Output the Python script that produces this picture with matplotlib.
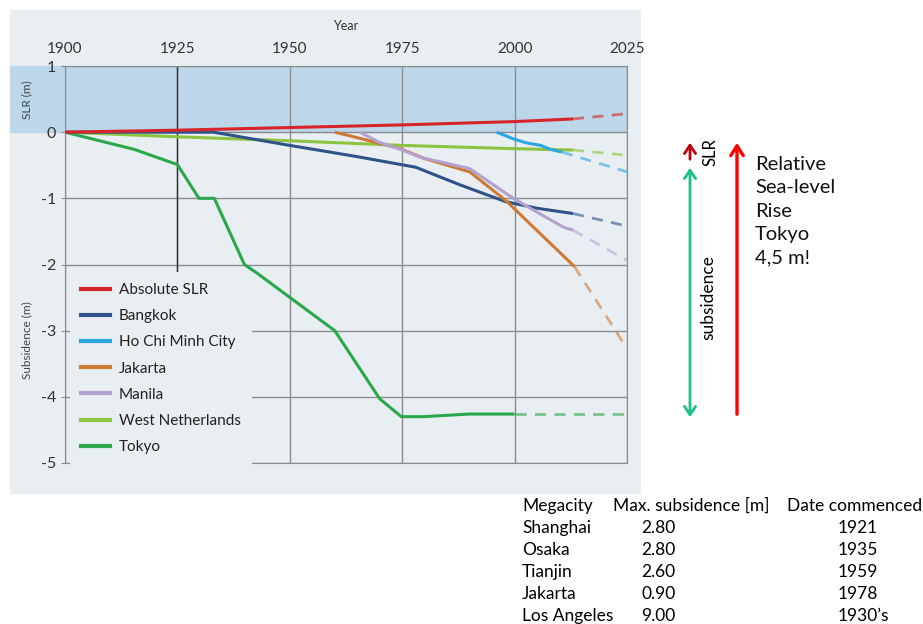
import matplotlib
matplotlib.use("Agg")
import matplotlib.pyplot as plt
from matplotlib.patches import Rectangle, FancyArrowPatch
from matplotlib.lines import Line2D

plt.rcParams['font.family'] = ['Lato', 'DejaVu Sans']
plt.rcParams['axes.unicode_minus'] = False

# Dados (anos e subsidência / subida do nível do mar em m)
slr_year = [1900, 1925, 1950, 1975, 2000, 2013]
slr_m = [0, 0.03, 0.07, 0.11, 0.16, 0.2]
slr_proj_year = [2013, 2025]
slr_proj_m = [0.2, 0.28]

bangkok_year = [1900, 1933, 1950, 1965, 1978, 1988, 1998, 2005, 2013]
bangkok_m = [0, 0, -0.2, -0.37, -0.53, -0.8, -1.05, -1.15, -1.23]
bangkok_proj_year = [2013, 2025]
bangkok_proj_m = [-1.23, -1.42]

hcmc_year = [1996, 1999.7, 2002.5, 2005.8, 2008, 2010.5]
hcmc_m = [0, -0.1, -0.16, -0.2, -0.26, -0.3]
hcmc_proj_year = [2010.5, 2025]
hcmc_proj_m = [-0.3, -0.6]

jakarta_year = [1960, 1966, 1974.6, 1980, 1990, 1998, 2003.5, 2013.3]
jakarta_m = [0, -0.1, -0.25, -0.4, -0.6, -1.03, -1.39, -2.03]
jakarta_proj_year = [2013.3, 2025]
jakarta_proj_m = [-2.03, -3.27]

manila_year = [1965.6, 1969.8, 1975.4, 1979, 1990, 1999.7, 2006.3, 2011, 2013]
manila_m = [0, -0.15, -0.28, -0.38, -0.55, -1.0, -1.26, -1.44, -1.48]
manila_proj_year = [2013, 2025]
manila_proj_m = [-1.48, -1.94]

wnl_year = [1900, 1925, 1950, 1975, 2000, 2013]
wnl_m = [0, -0.07, -0.13, -0.2, -0.25, -0.27]
wnl_proj_year = [2013, 2025]
wnl_proj_m = [-0.27, -0.35]

tokyo_year = [1900, 1915.4, 1925, 1929.8, 1933.2, 1939.9, 1942.7, 1960, 1970, 1974.8, 1979.6, 1990, 2000]
tokyo_m = [0, -0.26, -0.49, -1.0, -1.0, -2.0, -2.13, -3.0, -4.03, -4.3, -4.3, -4.26, -4.26]
tokyo_proj_year = [2000, 2025]
tokyo_proj_m = [-4.26, -4.26]

# Tabela
cidades = ["Shanghai", "Osaka", "Tianjin", "Jakarta", "Los Angeles"]
subs_max = ["2.80", "2.80", "2.60", "0.90", "9.00"]
inicio = ["1921", "1935", "1959", "1978", "1930\u2019s"]

W, H = 923, 624
fig = plt.figure(figsize=(W / 100, H / 100), dpi=100)


def fx(x):
    return x / W


def fy(y):
    return 1 - y / H


bg = "#e9eef3"
banda = "#bdd7ea"

# Fundo do gráfico e faixa azul à esquerda
fig.add_artist(Rectangle((fx(10), fy(493)), fx(640) - fx(10), fy(10) - fy(493),
                         transform=fig.transFigure, color=bg, zorder=0))
fig.add_artist(Rectangle((fx(10), fy(132)), fx(65) - fx(10), fy(66) - fy(132),
                         transform=fig.transFigure, color=banda, zorder=0))

ax = fig.add_axes([fx(65), fy(463), fx(627) - fx(65), fy(66) - fy(463)])
ax.set_facecolor(bg)
ax.axhspan(0, 1, color=banda, zorder=0)

series = [
    ("Absolute SLR", "#d7242b", slr_year, slr_m, slr_proj_year, slr_proj_m),
    ("Bangkok", "#2f5289", bangkok_year, bangkok_m, bangkok_proj_year, bangkok_proj_m),
    ("Ho Chi Minh City", "#2aa7df", hcmc_year, hcmc_m, hcmc_proj_year, hcmc_proj_m),
    ("Jakarta", "#cf7a34", jakarta_year, jakarta_m, jakarta_proj_year, jakarta_proj_m),
    ("Manila", "#b3a2cf", manila_year, manila_m, manila_proj_year, manila_proj_m),
    ("West Netherlands", "#8cc43f", wnl_year, wnl_m, wnl_proj_year, wnl_proj_m),
    ("Tokyo", "#2aa84a", tokyo_year, tokyo_m, tokyo_proj_year, tokyo_proj_m),
]

# ordem de desenho: Tokyo e West Netherlands por baixo
for nome, cor, xs, ys, px, py in [series[6], series[5], series[1], series[3], series[4], series[2], series[0]]:
    ax.plot(xs, ys, color=cor, lw=2.2, zorder=3, solid_capstyle='butt')
    ax.plot(px, py, color=cor, lw=2.0, alpha=0.6, dashes=(4, 3), zorder=3)

ax.set_xlim(1900, 2025)
ax.set_ylim(-5, 1)
ax.set_xticks(range(1900, 2026, 25))
ax.set_yticks(range(-5, 2))
ax.xaxis.tick_top()
ax.xaxis.set_label_position('top')
ax.set_xlabel("Year", fontsize=9, color="#333333", labelpad=9)
ax.tick_params(axis='x', length=0, labelsize=11, labelcolor="#333333", pad=7)
ax.tick_params(axis='y', length=3, labelsize=11.5, labelcolor="#333333", color="#8c8c8c")
ax.grid(True, color="#8c8c8c", lw=1, zorder=1)
ax.set_axisbelow(True)
for s in ax.spines.values():
    s.set_color("#8c8c8c")
ax.axvline(1925, color="#333333", lw=1, zorder=1.5)

fig.text(fx(27), fy(100), "SLR (m)", rotation=90, fontsize=8.5, color="#444444",
         ha='center', va='center')
fig.text(fx(27), fy(340), "Subsidence (m)", rotation=90, fontsize=8.5, color="#444444",
         ha='center', va='center')

handles = [Line2D([], [], color=c, lw=3) for _, c, *_ in series]
leg = ax.legend(handles, [n for n, *_ in series], loc='lower left',
                bbox_to_anchor=(0.009, -0.005), fontsize=11, labelspacing=0.8,
                handlelength=1.9, handletextpad=0.6, borderpad=0.7, borderaxespad=0,
                frameon=True, fancybox=False, facecolor=bg, edgecolor='none', framealpha=1)
leg.set_zorder(5)
for t in leg.get_texts():
    t.set_color("#222222")

# Setas e textos à direita
fig.add_artist(FancyArrowPatch((fx(690), fy(165)), (fx(690), fy(420)),
                               arrowstyle='<->,head_length=6,head_width=4',
                               color="#1bc08a", lw=2, transform=fig.transFigure))
fig.add_artist(FancyArrowPatch((fx(690), fy(162)), (fx(690), fy(140)),
                               arrowstyle='->,head_length=6,head_width=4',
                               color="#b80012", lw=2, transform=fig.transFigure))
fig.add_artist(FancyArrowPatch((fx(737), fy(417)), (fx(737), fy(140)),
                               arrowstyle='->,head_length=7,head_width=4.5',
                               color="#ff0000", lw=2.4, transform=fig.transFigure))
fig.text(fx(710), fy(152), "SLR", rotation=90, fontsize=12, ha='center', va='center')
fig.text(fx(708), fy(297), "subsidence", rotation=90, fontsize=12.5, ha='center', va='center')
fig.text(fx(755), fy(156), "Relative\nSea-level\nRise\nTokyo\n4,5 m!", fontsize=14.5,
         ha='left', va='top', linespacing=1.45, color="#111111")

# Tabela de megacidades
y0 = 506
fig.text(fx(522), fy(y0), "Megacity", fontsize=12.5, va='center')
fig.text(fx(613), fy(y0), "Max. subsidence [m]", fontsize=12.5, va='center')
fig.text(fx(787), fy(y0), "Date commenced", fontsize=12.5, va='center')
for i, (c, m, d) in enumerate(zip(cidades, subs_max, inicio)):
    yy = y0 + 22 * (i + 1)
    fig.text(fx(522), fy(yy), c, fontsize=12.5, va='center')
    fig.text(fx(641), fy(yy), m, fontsize=12.5, va='center')
    fig.text(fx(838), fy(yy), d, fontsize=12.5, va='center')

fig.savefig("out.png", dpi=100, facecolor='white')
